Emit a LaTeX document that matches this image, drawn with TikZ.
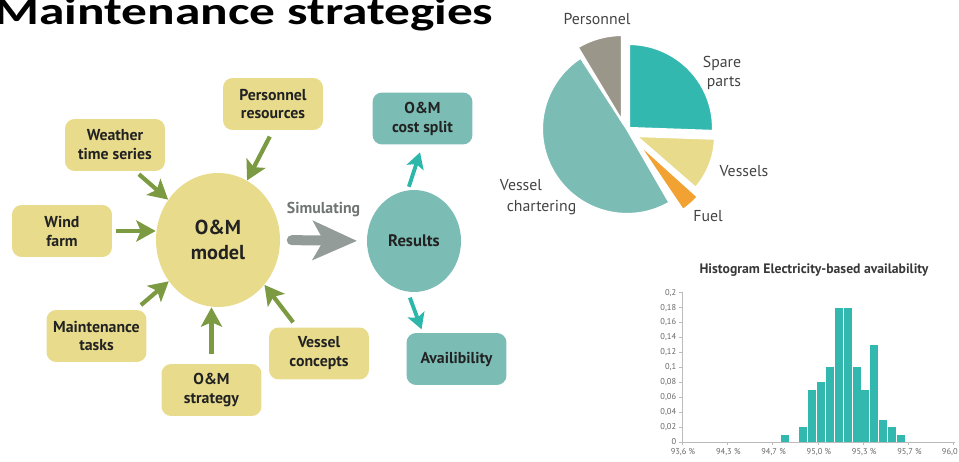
\documentclass[tikz,border=0pt]{standalone}
\usepackage{fontspec}
\setmainfont{PT Sans}
\newfontfamily\titlefont{Carlito}
\usetikzlibrary{arrows.meta,shapes.geometric}

\definecolor{boxyellow}{HTML}{E8DC8C}
\definecolor{boxteal}{HTML}{7BBDB5}
\definecolor{armgreen}{HTML}{7B9A42}
\definecolor{armgray}{HTML}{949C99}
\definecolor{armteal}{HTML}{2DB7AB}
\definecolor{sparecol}{HTML}{33B8AF}
\definecolor{fuelcol}{HTML}{F2A233}
\definecolor{perscol}{HTML}{9B968A}
\definecolor{inktext}{HTML}{222222}
\definecolor{axisgray}{HTML}{BBBBBB}

\begin{document}
\begin{tikzpicture}[x=0.02cm, y=-0.02cm,
	ybox/.style={rectangle, rounded corners=5.5pt, fill=boxyellow, minimum width=2cm, minimum height=1.04cm, inner sep=1pt, align=center, text=inktext, font=\bfseries\fontsize{9}{10.8}\selectfont},
	tbox/.style={ybox, fill=boxteal},
	garrow/.style={draw=armgreen, line width=2.4pt, -{Stealth[length=11pt,width=12pt,inset=2.5pt]}},
	tarrow/.style={draw=armteal, line width=2.2pt, -{Stealth[length=9pt,width=10pt,inset=2pt]}},
	simarrow/.style={draw=armgray, line width=5.7pt, line cap=round, -{Stealth[length=25pt,width=22pt,inset=6pt]}},
	slice/.style={draw=white, line width=1.2pt},
	pielabel/.style={text=inktext!85, font=\fontsize{9}{11}\selectfont, inner sep=0pt, align=center},
	ticklabel/.style={text=black!60, font=\fontsize{4.8}{5.5}\selectfont, inner sep=0pt}]
	%%%%% START %%%%%
	\useasboundingbox (0,0) rectangle (959,462);
	
	\node[anchor=base west, inner sep=0pt, xscale=1.33, font=\titlefont\bfseries\fontsize{22}{26}\selectfont] (title) at (-6,25) {Maintenance strategies};
	
	% model and inputs
	\node[ellipse, fill=boxyellow, minimum width=2.48cm, minimum height=2.68cm, inner sep=0pt, align=center, text=inktext, font=\bfseries\fontsize{11.5}{14}\selectfont] (model) at (218,240) {O\&M\\model};
	\node[ybox] (pers) at (273,104) {Personnel\\resources};
	\node[ybox] (weather) at (115,145) {Weather\\time series};
	\node[ybox] (wind) at (62,231) {Wind\\farm};
	\node[ybox] (maint) at (96.5,336) {Maintenance\\tasks};
	\node[ybox] (strat) at (211.5,390) {O\&M\\strategy};
	\node[ybox] (vessel) at (319,353.5) {Vessel\\concepts};
	
	\draw[garrow, shorten <=4pt] (pers.south) -- (model.64);
	\draw[garrow, shorten <=2.5pt] (weather.-52) -- (model.141);
	\draw[garrow, shorten <=2pt] (wind.east) -- (wind.east -| model.west);
	\draw[garrow, shorten <=4pt] (maint.34) -- (model.-140);
	\draw[garrow, shorten <=5.5pt] (strat.north) -- (strat.north |- model.south);
	\draw[garrow, shorten <=3.5pt] (vessel.130) -- (model.-44);
	
	% results
	\node[ellipse, fill=boxteal, minimum width=1.88cm, minimum height=2.04cm, inner sep=0pt, text=inktext, font=\bfseries\fontsize{9.5}{12}\selectfont] (results) at (414,241) {Results};
	\node[tbox] (cost) at (422.5,118.5) {O\&M\\cost split};
	\node[tbox] (avail) at (456.5,359) {Availibility};
	
	\draw[simarrow, shorten <=6.5pt, shorten >=5.5pt] (model.east) -- (results.west)
		node[midway, above=7pt, text=armgray!75!black, font=\bfseries\fontsize{9}{11}\selectfont] (sim) {Simulating};
	\draw[tarrow, shorten <=2pt, shorten >=4.5pt] (results.97) -- (cost.south);
	\draw[tarrow, shorten <=3.5pt, shorten >=2pt] (results.-97) -- (avail.142);
	
	% cost split pie
	\begin{scope}[shift={(629,128)}, yscale=-1]
		\filldraw[slice, fill=sparecol] (0,0) -- (-2:84) arc (-2:90:84) -- cycle;
	\end{scope}
	\begin{scope}[shift={(636,136)}, yscale=-1]
		\filldraw[slice, fill=boxyellow] (0,0) -- (-41:79) arc (-41:-2:79) -- cycle;
	\end{scope}
	\begin{scope}[shift={(637,142)}, yscale=-1]
		\filldraw[slice, fill=fuelcol] (0,0) -- (-56:82) arc (-56:-42:82) -- cycle;
	\end{scope}
	\begin{scope}[shift={(627,129)}, yscale=-1]
		\filldraw[slice, fill=boxteal] (0,0) -- (123:85) arc (123:300:85) -- cycle;
	\end{scope}
	\begin{scope}[shift={(622,121)}, yscale=-1]
		\filldraw[slice, fill=perscol] (0,0) -- (90:86) arc (90:121:86) -- cycle;
	\end{scope}
	
	\node[pielabel] (lpers) at (597,19) {Personnel};
	\node[pielabel, align=right] (lspare) at (722,73) {Spare\\parts};
	\node[pielabel] (lvessels) at (744,171) {Vessels};
	\node[pielabel] (lfuel) at (708,216) {Fuel};
	\node[pielabel] (lvess) at (521,185) {Vessel};
	\node[pielabel] (lchart) at (541.5,208) {chartering};
	
	% histogram
	\node[text=inktext!90, font=\bfseries\fontsize{7.8}{9}\selectfont] (htitle) at (814,270) {Histogram Electricity-based availability};
	\draw[axisgray, line width=0.5pt] (682,292.7) -- (682,442) -- (955,442);
	\foreach \k/\lab in {0/0, 1/{0,02}, 2/{0,04}, 3/{0,06}, 4/{0,08}, 5/{0,1}, 6/{0,12}, 7/{0,14}, 8/{0,16}, 9/{0,18}, 10/{0,2}} {
		\draw[axisgray, line width=0.4pt] (679,{442-14.93*\k}) -- (683,{442-14.93*\k});
		\node[ticklabel, anchor=east] at (676.5,{442-14.93*\k}) {\lab};
	}
	\foreach \k/\lab in {0/{93,6 \%}, 1/{94,3 \%}, 2/{94,7 \%}, 3/{95,0 \%}, 4/{95,3 \%}, 5/{95,7 \%}} {
		\draw[axisgray, line width=0.4pt] ({682+45.3*\k},442) -- ({682+45.3*\k},445);
		\node[ticklabel] at ({683+45.3*\k},452) {\lab};
	}
	\draw[axisgray, line width=0.4pt] (953.8,442) -- (953.8,445);
	\node[ticklabel, anchor=east] (lastx) at (958,452) {96,0};
	\foreach \i/\h in {0/1, 2/2, 3/7, 4/8, 5/10, 6/18, 7/18, 8/10, 9/7, 10/13, 11/3, 12/2, 13/1}
		\fill[sparecol] ({781.3+8.9*\i},442) rectangle ({781.3+8.9*\i+8},{442-7.465*\h});
	%%%%% END %%%%%
\end{tikzpicture}
\end{document}
